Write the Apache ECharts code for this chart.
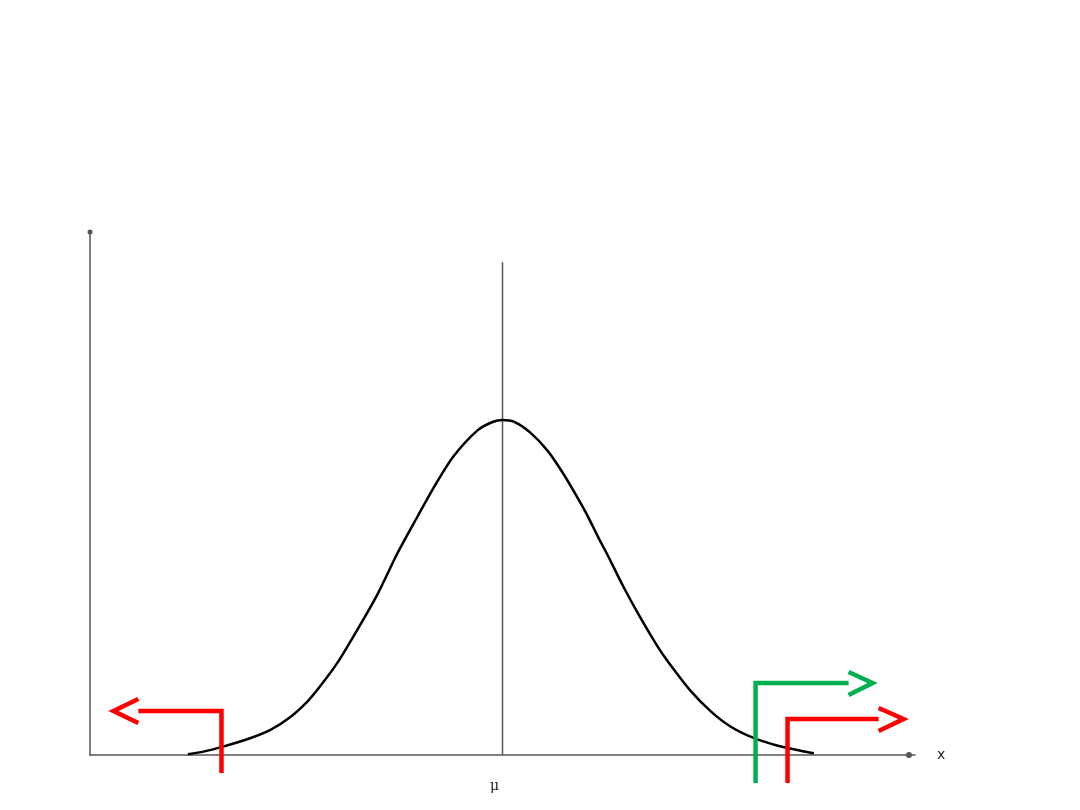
<!DOCTYPE html>
<html>
<head>
<meta charset="utf-8">
<script src="https://cdn.jsdelivr.net/npm/echarts@6/dist/echarts.min.js"></script>
<style>
html,body{margin:0;padding:0;background:#fff;}
#chart{width:1080px;height:810px;}
</style>
</head>
<body>
<div id="chart"></div>
<script>
// Normal curve (x in sigma units, y density)
const curveX = [-3.05,-2.90,-2.71,-2.47,-2.25,-2.06,-1.89,-1.78,-1.60,-1.38,-1.21,-1.02,-0.82,-0.67,-0.48,-0.24,-0.09,0,
                0.11,0.27,0.44,0.59,0.73,0.82,0.93,1.02,1.17,1.34,1.50,1.60,1.82,2.02,2.21,2.44,2.67,2.89,3.02];
const curveY = [0.001,0.004,0.010,0.019,0.030,0.045,0.064,0.080,0.110,0.155,0.192,0.240,0.285,0.318,0.355,0.387,0.397,0.399,
                0.397,0.384,0.362,0.335,0.306,0.286,0.259,0.238,0.201,0.163,0.130,0.112,0.077,0.052,0.034,0.020,0.011,0.005,0.002];
// mean line
const meanX = [0, 0];
const meanY = [0, 0.587];
// annotation arrows (bracket + chevron)
const redLeftX  = [-2.725,-2.725,-3.531];
const redLeftY  = [-0.0214,0.0524,0.0524];
const redLeftHeadX = [-3.531,-3.773,-3.531];
const redLeftHeadY = [0.0667,0.0524,0.0381];
const greenX = [2.454,2.454,3.356];
const greenY = [-0.0333,0.0858,0.0858];
const greenHeadX = [3.356,3.589,3.356];
const greenHeadY = [0.0989,0.0858,0.0715];
const redRightX = [2.764,2.764,3.647];
const redRightY = [-0.0333,0.0429,0.0429];
const redRightHeadX = [3.647,3.889,3.647];
const redRightHeadY = [0.0560,0.0429,0.0286];
const xLabelText = 'μ';
const xAxisName = 'x';

function pts(xs, ys){ return xs.map((x,i)=>[x, ys[i]]); }

const chart = echarts.init(document.getElementById('chart'));
function lineSeries(xs, ys, color, width, z){
  return {type:'line', data:pts(xs,ys), showSymbol:false, symbol:'none', clip:false, silent:true,
          lineStyle:{color:color, width:width, join:'miter', cap:'butt'}, z:z||2, animation:false};
}
chart.setOption({
  backgroundColor:'#ffffff',
  animation:false,
  grid:{left:90, right:165, top:232, bottom:55},
  xAxis:{type:'value', min:-4, max:4, interval:4,
    splitLine:{show:false}, axisTick:{show:false},
    axisLine:{onZero:false, lineStyle:{color:'#555', width:1.5}, symbol:['none','circle'], symbolSize:[6,6], symbolOffset:[0,-6]},
    axisLabel:{formatter:v=> v===0 ? xLabelText : '', margin:24, color:'#222', fontSize:14, fontFamily:'DejaVu Serif', padding:[0,16,0,0]},
    name:xAxisName, nameLocation:'end', nameGap:22, nameTextStyle:{color:'#222', fontSize:14, fontFamily:'DejaVu Sans', verticalAlign:'middle'}
  },
  yAxis:{type:'value', min:0, max:0.623,
    splitLine:{show:false}, axisTick:{show:false}, axisLabel:{show:false},
    axisLine:{onZero:false, lineStyle:{color:'#555', width:1.5}, symbol:['none','circle'], symbolSize:[5,5]}
  },
  series:[
    lineSeries(meanX, meanY, '#555', 1.5, 1),
    Object.assign(lineSeries(curveX, curveY, '#000', 2.5, 3), {smooth:0.25}),
    lineSeries(redLeftX, redLeftY, '#ff0000', 4.5, 4),
    lineSeries(redLeftHeadX, redLeftHeadY, '#ff0000', 4.5, 4),
    lineSeries(greenX, greenY, '#00b050', 4.5, 4),
    lineSeries(greenHeadX, greenHeadY, '#00b050', 4.5, 4),
    lineSeries(redRightX, redRightY, '#ff0000', 4.5, 4),
    lineSeries(redRightHeadX, redRightHeadY, '#ff0000', 4.5, 4)
  ]
});
</script>
</body>
</html>
